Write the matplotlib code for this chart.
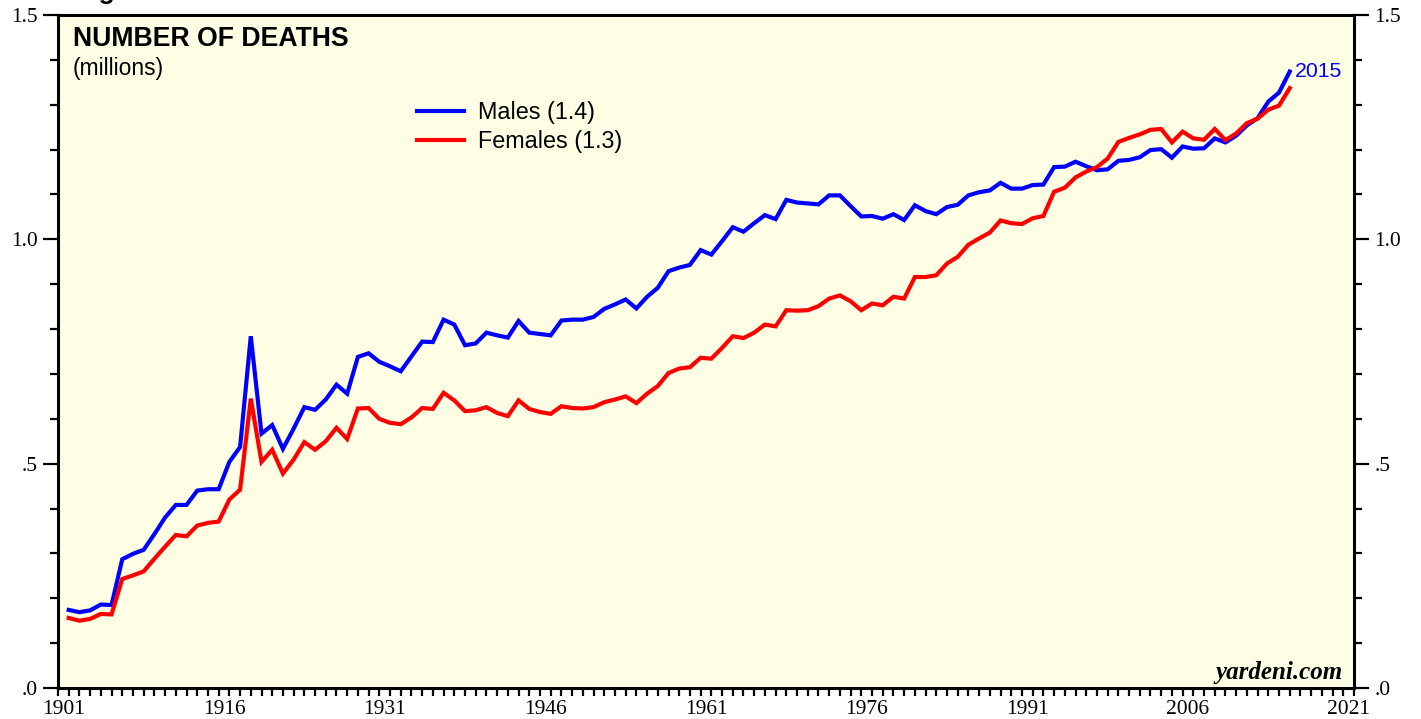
"""
Number of deaths in the US by sex, 1901-2015 (millions)
"""
import numpy as np
import matplotlib
matplotlib.use('Agg')
import matplotlib.pyplot as plt

# ---- data ----
years = list(range(1901, 2016))

males = [
    0.174, 0.169, 0.173, 0.186, 0.185, 0.287, 0.299, 0.308, 0.343, 0.380,  # 1901-1910
    0.408, 0.408, 0.440, 0.443, 0.443, 0.504, 0.537, 0.784, 0.567, 0.586,  # 1911-1920
    0.533, 0.578, 0.626, 0.620, 0.643, 0.676, 0.656, 0.738, 0.746, 0.727,  # 1921-1930
    0.717, 0.706, 0.739, 0.772, 0.771, 0.821, 0.810, 0.764, 0.768, 0.792,  # 1931-1940
    0.786, 0.781, 0.818, 0.792, 0.789, 0.786, 0.819, 0.821, 0.821, 0.827,  # 1941-1950
    0.845, 0.855, 0.866, 0.846, 0.872, 0.892, 0.929, 0.937, 0.943, 0.976,  # 1951-1960
    0.966, 0.996, 1.027, 1.017, 1.036, 1.054, 1.045, 1.088, 1.082, 1.080,  # 1961-1970
    1.078, 1.098, 1.098, 1.074, 1.051, 1.052, 1.046, 1.056, 1.043, 1.076,  # 1971-1980
    1.063, 1.056, 1.072, 1.077, 1.098, 1.105, 1.109, 1.126, 1.113, 1.113,  # 1981-1990
    1.121, 1.122, 1.161, 1.162, 1.173, 1.163, 1.154, 1.156, 1.175, 1.177,  # 1991-2000
    1.183, 1.199, 1.201, 1.182, 1.207, 1.202, 1.203, 1.225, 1.216, 1.231,  # 2001-2010
    1.254, 1.270, 1.307, 1.327, 1.374,                                     # 2011-2015
]

females = [
    0.156, 0.150, 0.154, 0.165, 0.164, 0.243, 0.251, 0.260, 0.288, 0.315,
    0.341, 0.338, 0.362, 0.368, 0.371, 0.420, 0.442, 0.645, 0.504, 0.531,
    0.478, 0.509, 0.548, 0.531, 0.550, 0.580, 0.555, 0.623, 0.624, 0.600,
    0.591, 0.588, 0.603, 0.624, 0.622, 0.658, 0.641, 0.617, 0.619, 0.626,
    0.613, 0.606, 0.641, 0.622, 0.615, 0.611, 0.628, 0.624, 0.623, 0.626,
    0.637, 0.643, 0.650, 0.635, 0.656, 0.673, 0.702, 0.712, 0.715, 0.736,
    0.734, 0.758, 0.784, 0.780, 0.792, 0.810, 0.806, 0.842, 0.841, 0.842,
    0.851, 0.868, 0.875, 0.862, 0.842, 0.857, 0.853, 0.872, 0.868, 0.916,
    0.916, 0.920, 0.946, 0.961, 0.988, 1.002, 1.015, 1.042, 1.036, 1.034,
    1.047, 1.052, 1.106, 1.115, 1.138, 1.151, 1.161, 1.180, 1.217, 1.226,
    1.234, 1.244, 1.246, 1.216, 1.240, 1.225, 1.222, 1.246, 1.221, 1.236,
    1.259, 1.269, 1.289, 1.298, 1.337,
]

label_years = [1901, 1916, 1931, 1946, 1961, 1976, 1991, 2006, 2021]
y_major = [0.0, 0.5, 1.0, 1.5]
y_labels = ['.0', '.5', '1.0', '1.5']

# ---- style ----
SERIF = ['Liberation Serif', 'DejaVu Serif']
SANS = ['Liberation Sans', 'DejaVu Sans']
BG = '#FEFEE4'

fig = plt.figure(figsize=(14.21, 7.19), dpi=100)
fig.patch.set_facecolor('white')
ax = fig.add_axes([58 / 1421, 31 / 719, 1296 / 1421, 673 / 719])
ax.set_facecolor(BG)

ax.plot(years, males, color='#0000FF', lw=3.0, label='Males (1.4)',
        solid_joinstyle='miter', zorder=3)
ax.plot(years, females, color='#FF0000', lw=3.0, label='Females (1.3)',
        solid_joinstyle='miter', zorder=3)

ax.set_xlim(1900, 2021)
ax.set_ylim(0, 1.5)

# x axis: a tick per year, label centred in the year interval
ax.set_xticks(np.arange(1900, 2022), minor=True)
ax.set_xticks([y - 0.5 for y in label_years])
ax.set_xticklabels([str(y) for y in label_years], family=SERIF, fontsize=15.5)
ax.tick_params(axis='x', which='major', length=0, pad=9)
ax.tick_params(axis='x', which='minor', direction='out', length=6, width=1.6)

# y axis on both sides
ax.set_yticks(y_major)
ax.set_yticklabels(y_labels, family=SERIF, fontsize=15.5)
ax.set_yticks(np.arange(0, 1.51, 0.1), minor=True)
ax.tick_params(axis='y', which='major', direction='out', length=11, width=1.6,
               left=True, right=True, labelleft=True, labelright=True, pad=3.5)
ax.tick_params(axis='y', which='minor', direction='out', length=5.5, width=1.6,
               left=True, right=True)
for lab in ax.get_yticklabels(which='major'):
    lab.set_family(SERIF)

for spine in ax.spines.values():
    spine.set_linewidth(2.2)
    spine.set_color('black')

# titles
ax.text(0.0116, 0.983, 'NUMBER OF DEATHS', transform=ax.transAxes, va='top',
        ha='left', family=SANS, fontsize=19.2, fontweight='bold')
ax.text(0.0116, 0.937, '(millions)', transform=ax.transAxes, va='top',
        ha='left', family=SANS, fontsize=16.5)

ax.legend(loc='upper left', bbox_to_anchor=(0.277, 0.872), frameon=False,
          prop={'family': SANS, 'size': 16.8}, handlelength=2.0,
          handletextpad=0.6, labelspacing=0.26, borderpad=0, borderaxespad=0)

ax.annotate('2015', xy=(years[-1], males[-1]), xytext=(4, 0),
            textcoords='offset points', va='center', ha='left',
            color='#0000FF', family=SANS, fontsize=15.3)

ax.text(0.991, 0.014, 'yardeni.com', transform=ax.transAxes, ha='right',
        va='baseline', family=SERIF, fontsize=18, fontweight='bold',
        style='italic')

fig.text(75 / 1421, 1 + 1 / 719, 'Figure 3.', va='baseline', ha='left',
         family=SANS, fontsize=19, fontweight='bold')

plt.savefig('out.png', dpi=100, facecolor='white')
plt.close()
